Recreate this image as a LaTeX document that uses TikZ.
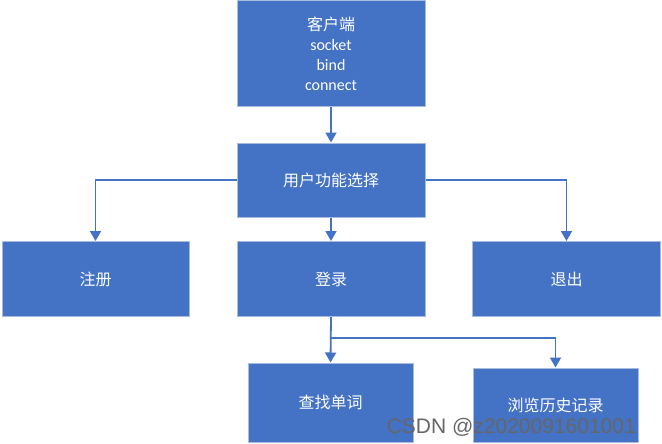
\documentclass[tikz,border=0pt]{standalone}
\usepackage{fontspec}
\setmainfont{Carlito}
\newfontfamily\cjk{Noto Sans CJK SC}
\newfontfamily\wmfont{Liberation Sans}
\usepackage{tikz}
\usetikzlibrary{arrows.meta, positioning}
\definecolor{boxblue}{HTML}{4472C4}
\definecolor{boxline}{HTML}{A8BBE0}
\tikzset{>={Triangle[width=11pt,length=10pt]}}

\begin{document}
\begin{tikzpicture}[x=1pt, y=-1pt, line width=1.6pt,
		box/.style={draw=boxline, line width=1pt, fill=boxblue, text=white, align=center,
			font=\fontsize{16}{20}\selectfont, inner sep=0pt},
		link/.style={draw=boxblue, line width=1.8pt, ->}]
		\useasboundingbox (0,0) rectangle (662,444);
		\node[box, minimum width=188pt, minimum height=106pt] (client) at (331,54) {{\cjk 客户端}\\socket\\bind\\connect};
		\node[box, minimum width=188pt, minimum height=74pt] (menu) at (331,180) {\cjk 用户功能选择};
		\node[box, minimum width=187pt, minimum height=75pt] (reg) at (95.5,279) {\cjk 注册};
		\node[box, minimum width=188pt, minimum height=75pt] (login) at (331,279) {\cjk 登录};
		\node[box, minimum width=188pt, minimum height=75pt] (quit) at (566.5,279) {\cjk 退出};
		\node[box, minimum width=165pt, minimum height=79pt] (search) at (330.5,402.5) {\cjk 查找单词};
		\node[box, minimum width=165pt, minimum height=74pt] (hist) at (555.5,405) {\cjk 浏览历史记录};
		\coordinate (fork) at (331,338);
		
		\draw [link](client)--(menu);
		\draw [link](menu.west) -| (reg.north);
		\draw [link](menu)--(login);
		\draw [link](menu.east) -| (quit.north);
		\draw [link](login.south)--(search.north);
		\draw [link](fork) -| (hist.north);
		
		\node[font=\wmfont\fontsize{21}{21}\selectfont, text=gray!80!black, anchor=west, inner sep=0pt] (mark) at (386,427) {CSDN @z2020091601001};
		\end{tikzpicture}
\end{document}
